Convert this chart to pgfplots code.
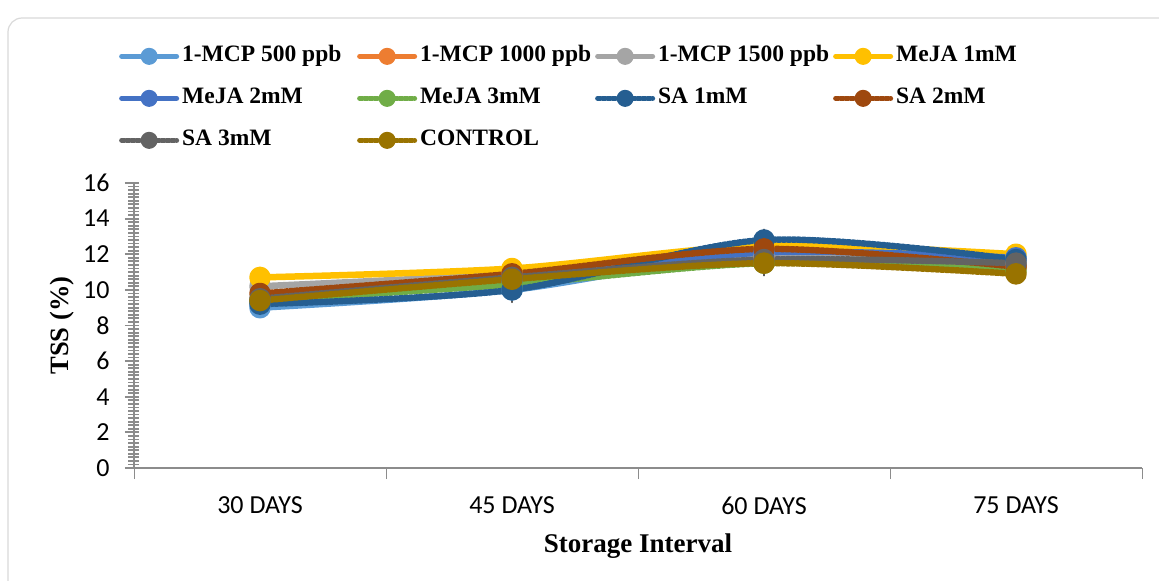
\documentclass[border=0pt]{standalone}
\usepackage{pgfplots}
\pgfplotsset{compat=1.18}
\usepackage{fontspec}
\setmainfont{Liberation Serif}
\newfontfamily\tickfont{Carlito}
\definecolor{c1}{HTML}{5B9BD5}
\definecolor{c2}{HTML}{ED7D31}
\definecolor{c3}{HTML}{A5A5A5}
\definecolor{c4}{HTML}{FFC000}
\definecolor{c5}{HTML}{4472C4}
\definecolor{c6}{HTML}{70AD47}
\definecolor{c7}{HTML}{255E91}
\definecolor{c8}{HTML}{9E480E}
\definecolor{c9}{HTML}{636363}
\definecolor{c10}{HTML}{997300}
\pgfplotsset{ser/.style={color=#1, line width=6.5bp, line cap=round, line join=round, mark=*, mark size=7.5bp, mark options={solid}, smooth, tension=0.5}}
\newcommand{\lgt}[1]{\makebox[178bp][l]{\hspace{3bp}\bfseries #1}}
\begin{document}
\begin{tikzpicture}
\useasboundingbox (0bp,0bp) rectangle (1159bp,-581bp);
\draw[black!15, line width=1.2bp, rounded corners=14bp] (8bp,-18bp) rectangle (1185bp,-600bp);
\begin{axis}[
  at={(134bp,-468bp)}, anchor=south west,
  width=1008bp, height=285bp, scale only axis,
  xmin=0.5, xmax=4.5, ymin=0, ymax=16,
  axis lines*=left,
  axis line style={black!45, line width=1.2bp},
  xtick={1,2,3,4},
  xticklabels={30 DAYS,45 DAYS,60 DAYS,75 DAYS},
  major x tick style={draw=none},
  minor xtick={0.5,1.5,2.5,3.5,4.5},
  minor x tick style={black!45, line width=1bp},
  ytick={0,2,...,16},
  minor y tick num=9,
  y tick style={black!45, line width=1.8bp, xshift=5bp},
  tick align=outside,
  major tick length=14bp,
  minor tick length=11bp,
  /pgf/number format/assume math mode=true,
  tick label style={font=\tickfont\fontsize{26bp}{30bp}\selectfont, black},
  yticklabel style={xshift=-7bp},
  xticklabel style={yshift=-11bp},
  xlabel={Storage Interval},
  ylabel={TSS (\%)},
  xlabel style={at={(axis description cs:0.5,-0.274)}, anchor=center, font=\bfseries\fontsize{27bp}{32bp}\selectfont},
  ylabel style={at={(axis description cs:-0.0714,0.5)}, anchor=center, rotate=0, font=\bfseries\fontsize{26.5bp}{32bp}\selectfont},
  legend columns=4,
  legend cell align=left,
  legend style={at={(axis description cs:-0.0179,1.489)}, anchor=north west, draw=none, fill=none,
    font=\fontsize{23.5bp}{27bp}\selectfont,
    nodes={inner sep=0pt, text height=16bp, text depth=5bp},
    row sep=21bp, column sep=0pt},
  legend image code/.code={\draw[mark repeat=2,mark phase=2,#1, line width=5bp, mark size=6bp] plot coordinates {(0bp,0bp) (27.5bp,0bp) (55bp,0bp)};},
]
\addplot+[ser=c1, error bars/.cd, y dir=both, y explicit, error mark=none,
  error bar style={line width=1.5bp, color=black!65, solid}] coordinates {(1,9.0) +- (0,0.5) (2,10.0) +- (0,0.7) (3,12.1) +- (0,1.3) (4,11.4) +- (0,0.2)};
\addlegendentry{\lgt{1-MCP 500 ppb}}
\addplot+[ser=c2] coordinates {(1,9.4) (2,10.6) (3,11.8) (4,11.3)};
\addlegendentry{\lgt{1-MCP 1000 ppb}}
\addplot+[ser=c3] coordinates {(1,10.2) (2,10.9) (3,11.9) (4,11.5)};
\addlegendentry{\lgt{1-MCP 1500 ppb}}
\addplot+[ser=c4] coordinates {(1,10.7) (2,11.2) (3,12.5) (4,12.0)};
\addlegendentry{\lgt{MeJA 1mM}}
\addplot+[ser=c5] coordinates {(1,9.3) (2,10.5) (3,12.1) (4,11.8)};
\addlegendentry{\lgt{MeJA 2mM}}
\addplot+[ser=c6] coordinates {(1,9.4) (2,10.3) (3,11.5) (4,11.1)};
\addlegendentry{\lgt{MeJA 3mM}}
\addplot+[ser=c7] coordinates {(1,9.2) (2,10.0) (3,12.8) (4,11.7)};
\addlegendentry{\lgt{SA 1mM}}
\addplot+[ser=c8] coordinates {(1,9.8) (2,10.9) (3,12.3) (4,11.3)};
\addlegendentry{\lgt{SA 2mM}}
\addplot+[ser=c9] coordinates {(1,9.5) (2,10.7) (3,11.7) (4,11.5)};
\addlegendentry{\lgt{SA 3mM}}
\addplot+[ser=c10] coordinates {(1,9.4) (2,10.6) (3,11.5) (4,10.9)};
\addlegendentry{\lgt{CONTROL}}
\end{axis}
\end{tikzpicture}
\end{document}
